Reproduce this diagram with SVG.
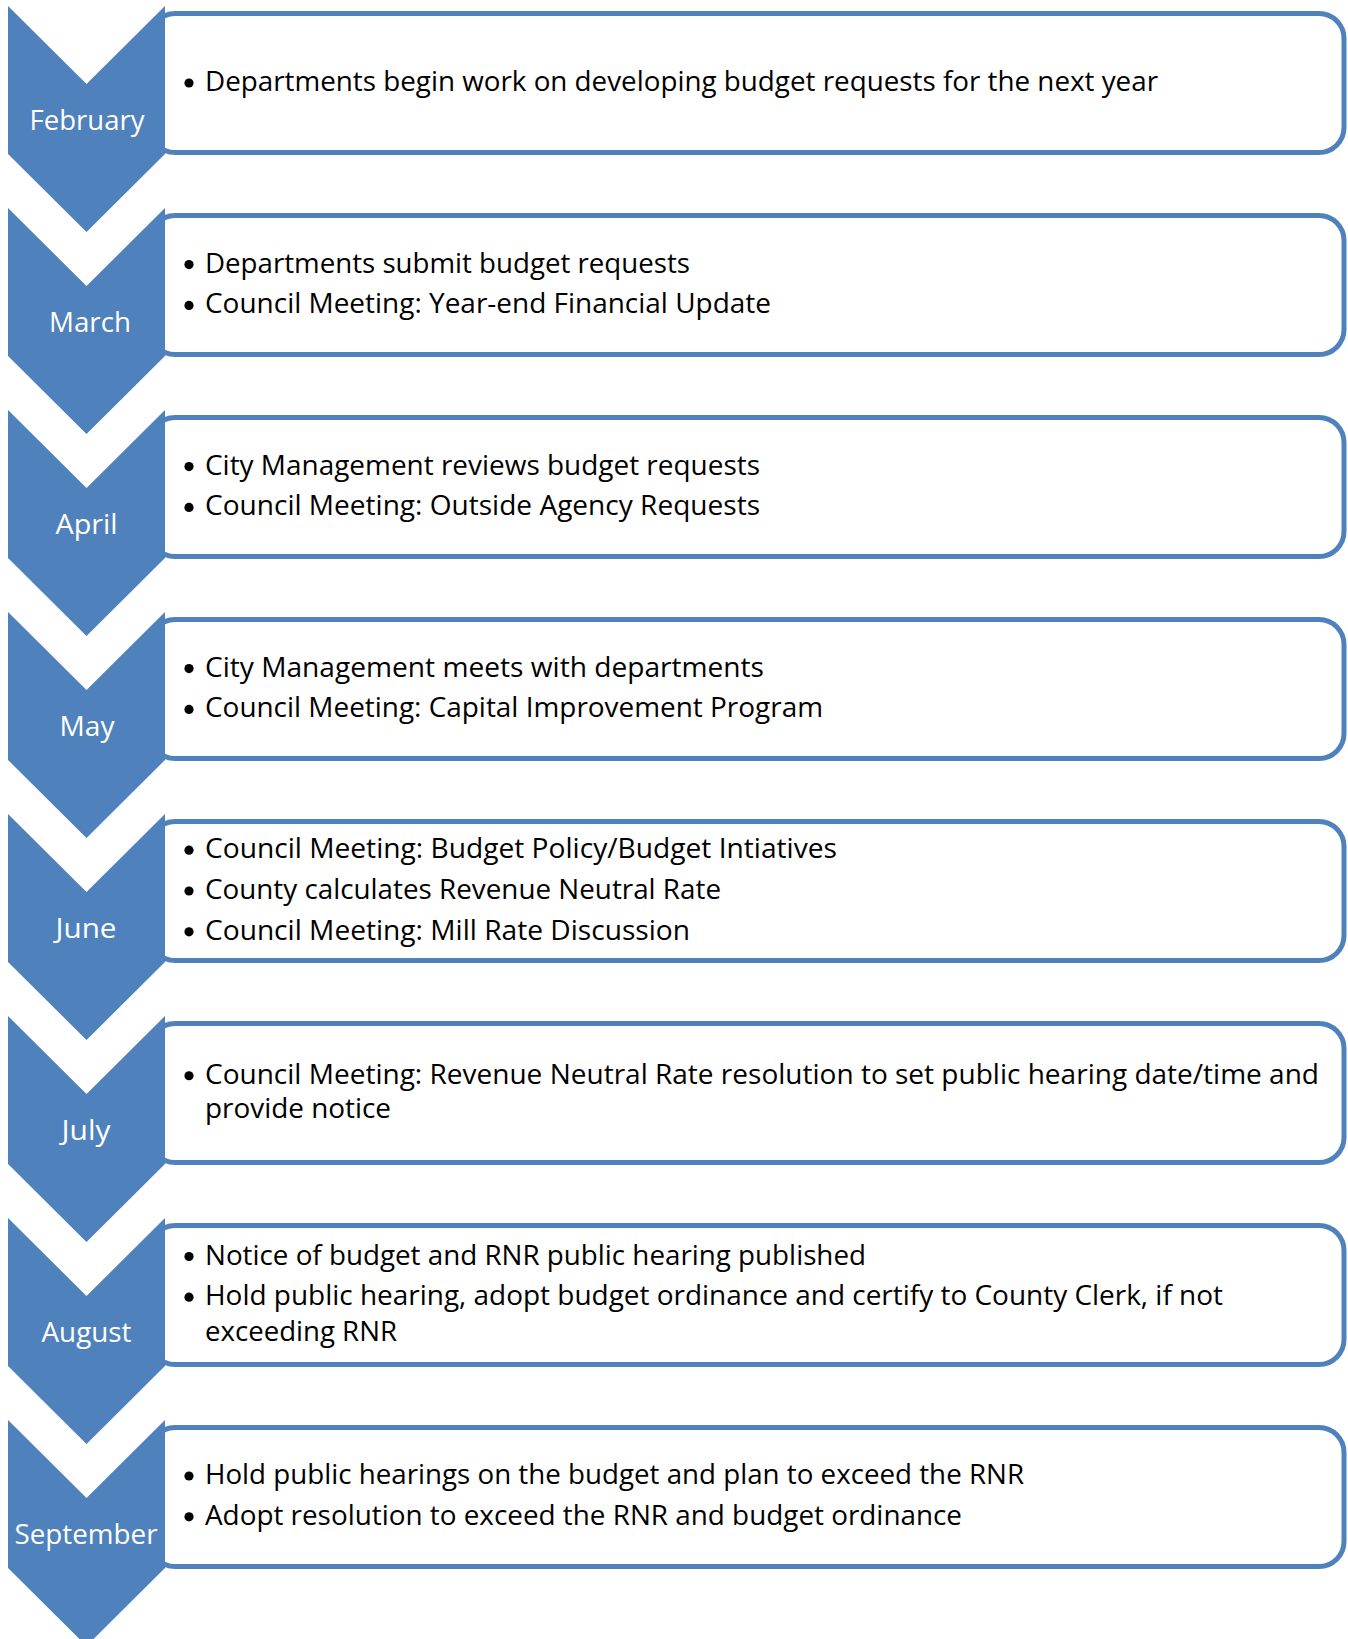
<svg xmlns="http://www.w3.org/2000/svg" width="1348" height="1639" viewBox="0 0 1348 1639">
  <style>
    .box { fill: #ffffff; stroke: #4f81bd; stroke-width: 5; }
    .chev { fill: #4f81bd; }
    .month { font-family: "Open Sans", "Liberation Sans", sans-serif; font-size: 27px; fill: #ffffff; text-anchor: middle; }
    .item { font-family: "Open Sans", "Liberation Sans", sans-serif; font-size: 27.5px; fill: #000000; }
    .dot { fill: #000000; }
  </style>
  <defs>
    <!-- downward chevron, one per month -->
    <path id="chevron" d="M8,6 L86.5,84 L165,6 L165,154 L86.5,232 L8,154 Z"/>
  </defs>

  <g id="february">
    <rect class="box" x="150" y="13.5" width="1194" height="139" rx="25"/>
    <use href="#chevron" class="chev"/>
    <text class="month" x="87" y="129.5" textLength="115" lengthAdjust="spacingAndGlyphs">February</text>
    <circle class="dot" cx="189" cy="83" r="4.6"/>
    <text class="item" x="205" y="91" textLength="953" lengthAdjust="spacingAndGlyphs">Departments begin work on developing budget requests for the next year</text>
  </g>

  <g id="march" transform="translate(0,202)">
    <rect class="box" x="150" y="13.5" width="1194" height="139" rx="25"/>
    <use href="#chevron" class="chev"/>
    <text class="month" x="90" y="129.5" textLength="82" lengthAdjust="spacingAndGlyphs">March</text>
    <circle class="dot" cx="189" cy="62.6" r="4.6"/>
    <text class="item" x="205" y="70.6" textLength="485" lengthAdjust="spacingAndGlyphs">Departments submit budget requests</text>
    <circle class="dot" cx="189" cy="103.4" r="4.6"/>
    <text class="item" x="205" y="111.4" textLength="566" lengthAdjust="spacingAndGlyphs">Council Meeting: Year-end Financial Update</text>
  </g>

  <g id="april" transform="translate(0,404)">
    <rect class="box" x="150" y="13.5" width="1194" height="139" rx="25"/>
    <use href="#chevron" class="chev"/>
    <text class="month" x="86.5" y="129.5" textLength="62" lengthAdjust="spacingAndGlyphs">April</text>
    <circle class="dot" cx="189" cy="62.6" r="4.6"/>
    <text class="item" x="205" y="70.6" textLength="555" lengthAdjust="spacingAndGlyphs">City Management reviews budget requests</text>
    <circle class="dot" cx="189" cy="103.4" r="4.6"/>
    <text class="item" x="205" y="111.4" textLength="555" lengthAdjust="spacingAndGlyphs">Council Meeting: Outside Agency Requests</text>
  </g>

  <g id="may" transform="translate(0,606)">
    <rect class="box" x="150" y="13.5" width="1194" height="139" rx="25"/>
    <use href="#chevron" class="chev"/>
    <text class="month" x="87" y="129.5" textLength="55" lengthAdjust="spacingAndGlyphs">May</text>
    <circle class="dot" cx="189" cy="62.6" r="4.6"/>
    <text class="item" x="205" y="70.6" textLength="559" lengthAdjust="spacingAndGlyphs">City Management meets with departments</text>
    <circle class="dot" cx="189" cy="103.4" r="4.6"/>
    <text class="item" x="205" y="111.4" textLength="618" lengthAdjust="spacingAndGlyphs">Council Meeting: Capital Improvement Program</text>
  </g>

  <g id="june" transform="translate(0,808)">
    <rect class="box" x="150" y="13.5" width="1194" height="139" rx="25"/>
    <use href="#chevron" class="chev"/>
    <text class="month" x="86" y="129.5" textLength="61" lengthAdjust="spacingAndGlyphs">June</text>
    <circle class="dot" cx="189" cy="42.2" r="4.6"/>
    <text class="item" x="205" y="50.2" textLength="632" lengthAdjust="spacingAndGlyphs">Council Meeting: Budget Policy/Budget Intiatives</text>
    <circle class="dot" cx="189" cy="83" r="4.6"/>
    <text class="item" x="205" y="91" textLength="516" lengthAdjust="spacingAndGlyphs">County calculates Revenue Neutral Rate</text>
    <circle class="dot" cx="189" cy="123.8" r="4.6"/>
    <text class="item" x="205" y="131.8" textLength="485" lengthAdjust="spacingAndGlyphs">Council Meeting: Mill Rate Discussion</text>
  </g>

  <g id="july" transform="translate(0,1010)">
    <rect class="box" x="150" y="13.5" width="1194" height="139" rx="25"/>
    <use href="#chevron" class="chev"/>
    <text class="month" x="86" y="129.5" textLength="49" lengthAdjust="spacingAndGlyphs">July</text>
    <circle class="dot" cx="189" cy="65.75" r="4.6"/>
    <text class="item" x="205" y="73.75" textLength="1114" lengthAdjust="spacingAndGlyphs">Council Meeting: Revenue Neutral Rate resolution to set public hearing date/time and</text>
    <text class="item" x="205" y="108.25" textLength="186" lengthAdjust="spacingAndGlyphs">provide notice</text>
  </g>

  <g id="august" transform="translate(0,1212)">
    <rect class="box" x="150" y="13.5" width="1194" height="139" rx="25"/>
    <use href="#chevron" class="chev"/>
    <text class="month" x="86.5" y="129.5" textLength="90" lengthAdjust="spacingAndGlyphs">August</text>
    <circle class="dot" cx="189" cy="44.5" r="4.6"/>
    <text class="item" x="205" y="52.5" textLength="661" lengthAdjust="spacingAndGlyphs">Notice of budget and RNR public hearing published</text>
    <circle class="dot" cx="189" cy="85.2" r="4.6"/>
    <text class="item" x="205" y="93.2" textLength="1018" lengthAdjust="spacingAndGlyphs">Hold public hearing, adopt budget ordinance and certify to County Clerk, if not</text>
    <text class="item" x="205" y="128.8" textLength="192" lengthAdjust="spacingAndGlyphs">exceeding RNR</text>
  </g>

  <g id="september" transform="translate(0,1414)">
    <rect class="box" x="150" y="13.5" width="1194" height="139" rx="25"/>
    <use href="#chevron" class="chev"/>
    <text class="month" x="86" y="129.5" textLength="143" lengthAdjust="spacingAndGlyphs">September</text>
    <circle class="dot" cx="189" cy="62" r="4.6"/>
    <text class="item" x="205" y="70" textLength="819" lengthAdjust="spacingAndGlyphs">Hold public hearings on the budget and plan to exceed the RNR</text>
    <circle class="dot" cx="189" cy="102.8" r="4.6"/>
    <text class="item" x="205" y="110.8" textLength="757" lengthAdjust="spacingAndGlyphs">Adopt resolution to exceed the RNR and budget ordinance</text>
  </g>
</svg>
